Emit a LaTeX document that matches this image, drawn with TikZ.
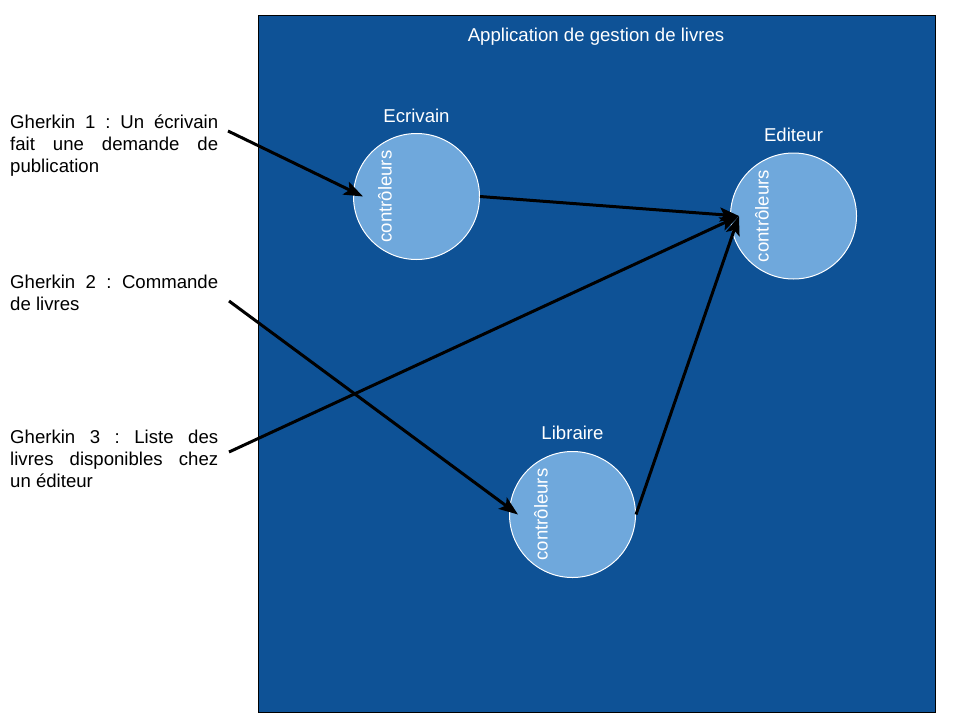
\documentclass[tikz,border=0pt]{standalone}
\usepackage{fontspec}
\setmainfont{Liberation Sans}
\usetikzlibrary{arrows.meta}
\definecolor{appblue}{RGB}{14,82,150}
\definecolor{ctrlblue}{RGB}{111,168,220}
\hyphenpenalty=10000
\exhyphenpenalty=10000
\frenchspacing
\newcommand\widespace{\spaceskip=\fontdimen2\font plus 1em\relax}

\begin{document}
\begin{tikzpicture}[x=1pt,y=-1pt,
  every node/.style={font=\fontsize{18.6}{22}\selectfont,inner sep=0pt},
  actor/.style={circle,draw=white,line width=1pt,fill=ctrlblue,minimum size=126pt},
  ctrl/.style={text=white,rotate=90},
  caption/.style={text=white,anchor=base},
  gherkin/.style={anchor=north west,text width=208pt,align=justify},
  link/.style={draw=black,line width=3pt,-{Stealth[length=19pt,width=14pt,inset=4pt]}}]
%
\useasboundingbox (0,0) rectangle (960,720);
%
\draw[fill=appblue,draw=black,line width=1pt] (258,15) rectangle (935,712);
\node[caption] (app) at (596,41) {Application de gestion de livres};
%
\node[actor] (ecr) at (416.5,196.5) {};
\node[actor] (edi) at (793.5,216) {};
\node[actor] (lib) at (572.5,514.5) {};
%
\node[caption] (ecr-name) at (416.5,122) {Ecrivain};
\node[caption] (edi-name) at (793.5,141.5) {Editeur};
\node[caption] (lib-name) at (572.5,439) {Libraire};
%
\node[ctrl] (ecr-ctrl) at (385,196.5) {contrôleurs};
\node[ctrl] (edi-ctrl) at (762,216) {contrôleurs};
\node[ctrl] (lib-ctrl) at (541,514.5) {contrôleurs};
%
\node[gherkin] (g1) at (10,115) {\widespace Gherkin 1 : Un écrivain fait une demande de publication};
\node[gherkin] (g2) at (10,275) {\widespace Gherkin 2 : Commande de livres};
\node[gherkin] (g3) at (10,430) {\widespace Gherkin 3 : Liste des livres disponibles chez un éditeur};
%
\coordinate (g1-out) at (228,131);
\coordinate (g2-out) at (229,301);
\coordinate (g3-out) at (229,452);
%
\draw[link] (g1-out) -- ([xshift=10pt]ecr.west);
\draw[link] (ecr.east) -- ([xshift=9pt]edi.west);
\draw[link] (g2-out) -- ([xshift=9pt]lib.west);
\draw[link] (g3-out) -- ([xshift=9pt]edi.west);
\draw[link] (lib.east) -- ([xshift=9pt]edi.west);
%
\end{tikzpicture}
\end{document}
